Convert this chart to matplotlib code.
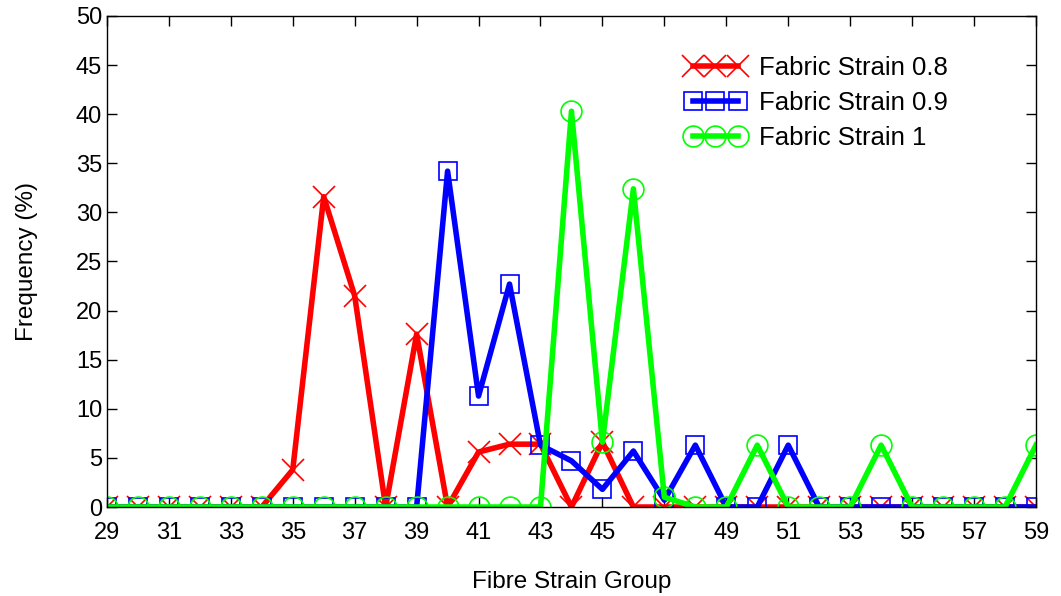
import matplotlib
matplotlib.use("Agg")
import matplotlib.pyplot as plt
from matplotlib.legend_handler import HandlerLine2D

plt.rcParams['font.family'] = ['Liberation Sans', 'DejaVu Sans']

# Fibre strain groups and frequency (%) for each fabric strain level
groups = list(range(29, 60))
strain_08 = [0, 0, 0, 0, 0, 0, 3.8, 31.6, 21.5, 0, 17.6, 0, 5.6, 6.4, 6.4, 0,
             6.6, 0, 0, 0, 0, 0, 0, 0, 0, 0, 0, 0, 0, 0, 0]
strain_09 = [0, 0, 0, 0, 0, 0, 0, 0, 0, 0, 0, 34.2, 11.3, 22.7, 6.3, 4.7,
             1.8, 5.7, 0.7, 6.3, 0, 0, 6.3, 0, 0, 0, 0, 0, 0, 0, 0]
strain_10 = [0, 0, 0, 0, 0, 0, 0, 0, 0, 0, 0, 0, 0, 0, 0, 40.3,
             6.6, 32.4, 1.0, 0, 0, 6.3, 0, 0, 0, 6.3, 0, 0, 0, 0, 6.3]
series_labels = ['Fabric Strain 0.8', 'Fabric Strain 0.9', 'Fabric Strain 1']
x_ticks = list(range(29, 60, 2))
y_ticks = list(range(0, 51, 5))

fig = plt.figure(figsize=(10.61, 5.96), dpi=100)
ax = fig.add_axes([0.1008, 0.1493, 0.8756, 0.8239])

lw = 4.0
mew = 1.2
l1, = ax.plot(groups, strain_08, color='#ff0000', lw=lw, marker='x', ms=15.5,
              mew=mew, mfc='none', mec='#ff0000', label=series_labels[0])
l2, = ax.plot(groups, strain_09, color='#0000ff', lw=lw, marker='s', ms=12.5,
              mew=mew, mfc='none', mec='#0000ff', label=series_labels[1])
l3, = ax.plot(groups, strain_10, color='#00ff00', lw=lw, marker='o', ms=15,
              mew=mew, mfc='none', mec='#00ff00', label=series_labels[2])

ax.set_xlim(29, 59)
ax.set_ylim(0, 50)
ax.set_xticks(x_ticks)
ax.set_yticks(y_ticks)
ax.tick_params(direction='in', length=7.5, width=1.0, labelsize=17,
               top=True, right=True, colors='black')
ax.tick_params(axis='x', pad=11)
ax.tick_params(axis='y', pad=3.5)
for s in ax.spines.values():
    s.set_linewidth(1.0)
    s.set_color('black')

ax.set_xlabel('Fibre Strain Group', fontsize=17.5, labelpad=19)
ax.set_ylabel('Frequency (%)', fontsize=17.5, labelpad=27)

hmap = {h: HandlerLine2D(numpoints=3, marker_pad=0.45) for h in (l1, l2, l3)}
ax.legend(handles=[l1, l2, l3], handler_map=hmap, loc='upper left',
          bbox_to_anchor=(0.618, 0.918), frameon=False, fontsize=18.5,
          handlelength=2.65, handletextpad=0.38, labelspacing=0.42,
          borderpad=0, borderaxespad=0)

fig.savefig('out.png', dpi=100)
